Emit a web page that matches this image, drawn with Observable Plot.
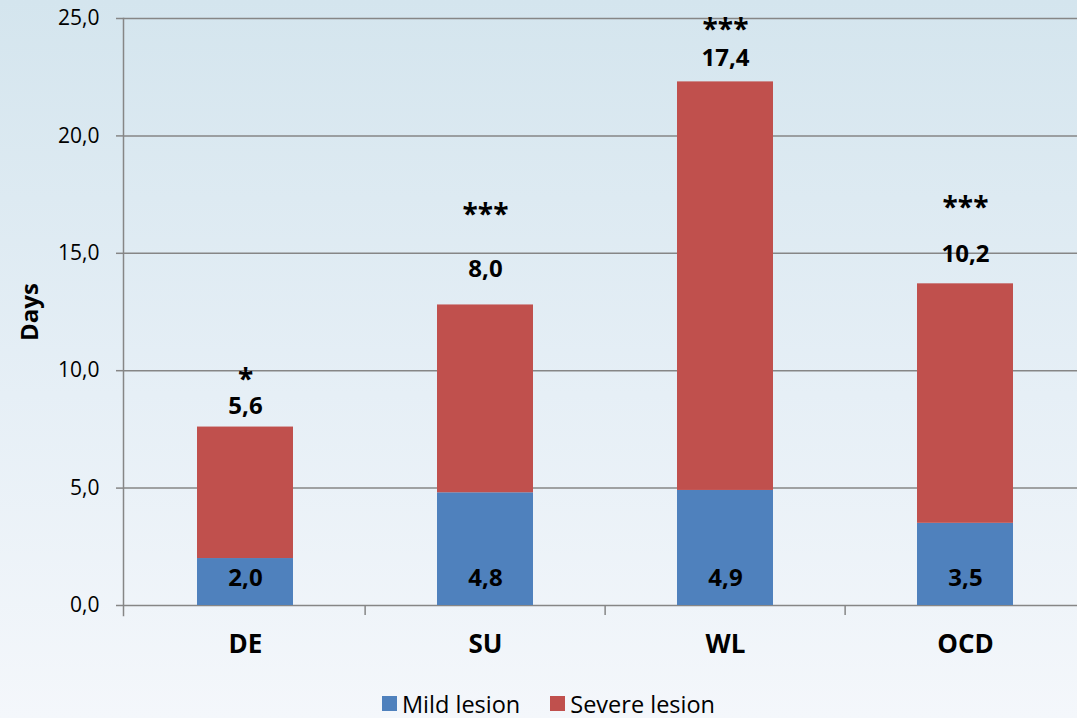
<!DOCTYPE html>
<html>
<head>
<meta charset="utf-8">
<script src="https://cdn.jsdelivr.net/npm/d3@7"></script>
<script src="https://cdn.jsdelivr.net/npm/@observablehq/plot@0.6"></script>
<style>
  html, body { margin: 0; padding: 0; overflow: hidden; }
  body {
    width: 1077px; height: 718px;
    background: linear-gradient(to bottom, #d4e5ee 0%, #e6eff6 55%, #f4f7fb 100%);
    font-family: "Open Sans", sans-serif;
  }
  #legend { display: flex; justify-content: center; padding-left: 50px; padding-top: 5px; }
  .lg-swatch { margin-right: 30px !important; }
  .lg-swatch > svg { margin-right: 5px !important; }
</style>
</head>
<body>
<div id="chart"></div>
<div id="legend"></div>
<script>
// Days of absence by condition, split by lesion severity
const categories = ["DE", "SU", "WL", "OCD"];
const mild = [2.0, 4.8, 4.9, 3.5];
const severe = [5.6, 8.0, 17.4, 10.2];
const stars = ["*", "***", "***", "***"];
const series = ["Mild lesion", "Severe lesion"];
const colors = ["#4f81bd", "#c0504d"];
const yTicks = [0, 5, 10, 15, 20, 25];

// Label nudges above each bar (px): value label and significance stars
const valueLift = [21, 36, 24, 30];
const starLift = [47, 90, 52, 76];

const comma = v => d3.format(".1f")(v).replace(".", ",");

const rows = [];
categories.forEach((c, i) => {
  rows.push({cat: c, series: series[0], value: mild[i]});
  rows.push({cat: c, series: series[1], value: severe[i]});
});
const tops = categories.map((c, i) => ({cat: c, total: mild[i] + severe[i], severe: severe[i], star: stars[i]}));
const bases = categories.map((c, i) => ({cat: c, mild: mild[i]}));

const W = 1077, H = 682, ML = 123, MR = -9, MT = 18, MB = 77;
const step = (W - MR - ML) / categories.length;
const grey = "#868686";
const font = "'Open Sans', sans-serif";
const bold = {fontWeight: "bold", fill: "#000"};

// One annotation pair per bar, each with its own offset above the bar top
const annotations = tops.flatMap((d, i) => [
  Plot.text([d], {x: "cat", y: "total", dy: -valueLift[i], text: e => comma(e.severe), fontSize: 24, ...bold}),
  Plot.text([d], {x: "cat", y: "total", dy: -starLift[i], text: "star", fontSize: 28, letterSpacing: 2, ...bold})
]);

const chart = Plot.plot({
  width: W, height: H,
  marginLeft: ML, marginRight: MR, marginTop: MT, marginBottom: MB,
  style: {background: "transparent", fontFamily: font, overflow: "visible"},
  x: {domain: categories, paddingInner: 0.6, paddingOuter: 0.3},
  y: {domain: [0, 25]},
  color: {domain: series, range: colors},
  marks: [
    Plot.gridY(yTicks, {stroke: grey, strokeOpacity: 1, strokeWidth: 1.5}),
    Plot.frame({anchor: "left", stroke: grey, strokeWidth: 1.5, insetBottom: -10}),
    Plot.ruleX(categories.slice(1), {x: d => d, dx: -step / 2, y1: 0, y2: -10 / 23.48, stroke: grey, strokeWidth: 1.5}),
    Plot.axisY(yTicks, {tickSize: 7, tickPadding: 17, tickFormat: comma, stroke: grey, strokeWidth: 1.5,
      fontSize: 21, fill: "#000", label: null}),
    Plot.axisX({tickSize: 0, tickPadding: 29, fontSize: 26, ...bold, label: null}),
    Plot.barY(rows, {x: "cat", y: "value", fill: "series"}),
    Plot.text(bases, {x: "cat", y: 0, dy: -27, text: d => comma(d.mild), fontSize: 24, ...bold}),
    ...annotations,
    Plot.text(["Days"], {frameAnchor: "left", textAnchor: "middle", rotate: -90, dx: -93, fontSize: 24, ...bold})
  ]
});
document.getElementById("chart").appendChild(chart);

const legend = Plot.legend({
  color: {domain: series, range: colors},
  className: "lg",
  swatchSize: 15,
  style: {fontSize: "23.5px", fontFamily: font, color: "#000", background: "transparent"}
});
document.getElementById("legend").appendChild(legend);
</script>
</body>
</html>
